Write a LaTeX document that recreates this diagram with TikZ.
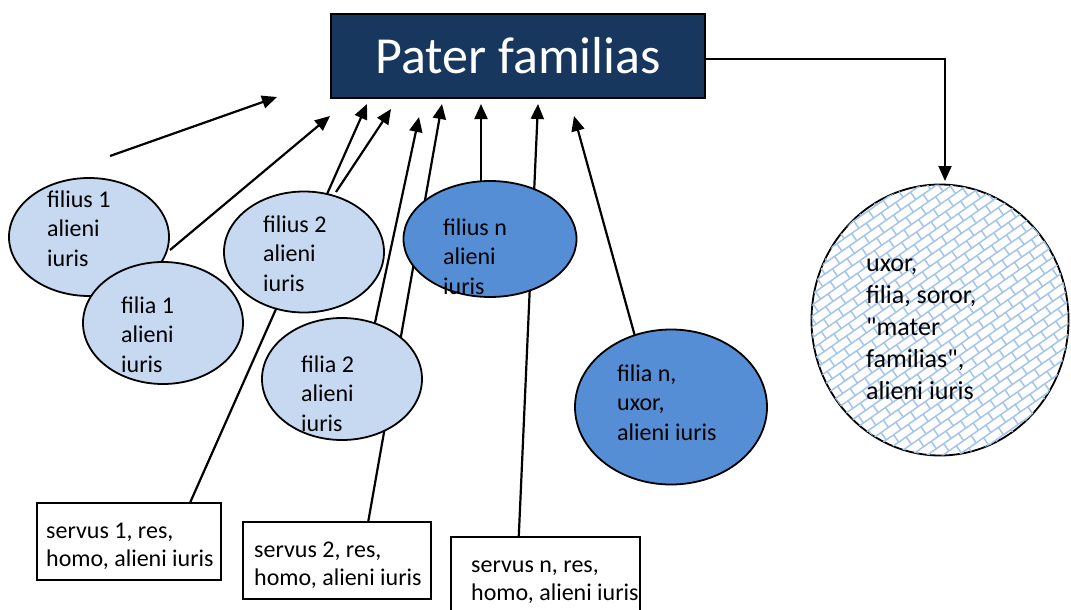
\documentclass[tikz,border=0pt]{standalone}
\usepackage{fontspec}
\setmainfont{Carlito}
\newfontfamily\qfont{Carlito}
\usetikzlibrary{arrows.meta,backgrounds,patterns.meta,shapes.geometric,calc}
\definecolor{navy}{HTML}{17375E}
\definecolor{lightb}{HTML}{C6D9F1}
\definecolor{midb}{HTML}{558ED5}
\definecolor{patb}{HTML}{A4C4EC}
\pgfdeclarepattern{
  name=bricksdiag,
  bottom left={\pgfpoint{-1pt}{-1pt}},
  top right={\pgfpoint{19pt}{19pt}},
  tile size={\pgfpoint{18pt}{18pt}},
  tile transformation={\pgftransformrotate{35}},
  code={
    \pgfsetlinewidth{1.5pt}
    \pgfpathmoveto{\pgfpoint{0pt}{0pt}}\pgfpathlineto{\pgfpoint{18pt}{0pt}}
    \pgfpathmoveto{\pgfpoint{0pt}{9pt}}\pgfpathlineto{\pgfpoint{18pt}{9pt}}
    \pgfpathmoveto{\pgfpoint{4.5pt}{0pt}}\pgfpathlineto{\pgfpoint{4.5pt}{9pt}}
    \pgfpathmoveto{\pgfpoint{13.5pt}{9pt}}\pgfpathlineto{\pgfpoint{13.5pt}{18pt}}
    \pgfusepath{stroke}
  }
}
\begin{document}
\begin{tikzpicture}[x=1pt,y=-1pt,
  ell/.style={ellipse, draw=black, line width=1.8pt, inner sep=0pt},
  lbl/.style={anchor=north west, inner sep=0pt, align=left, font=\fontsize{24}{29.5}\selectfont},
  box/.style={rectangle, draw=black, line width=1.8pt, fill=white, inner sep=0pt},
  conn/.style={line width=2.2pt, -{Triangle[length=15pt,width=13pt]}}
]
\useasboundingbox (0,0) rectangle (1071,610);

% head
\node[rectangle, draw=black, line width=1.8pt, fill=navy, text=white,
      minimum width=374pt, minimum height=84pt, inner sep=0pt,
      font=\fontsize{52}{60}\selectfont] (pf) at (518,56) {Pater familias};

% ellipses
\node[ell, fill=lightb, minimum width=160pt, minimum height=118pt] (f1) at (89,237) {};
\node[ell, fill=lightb, minimum width=160pt, minimum height=122pt] (fa1) at (163,323) {};
\node[ell, fill=lightb, minimum width=160pt, minimum height=121pt] (f2) at (304,252) {};
\node[ell, fill=lightb, minimum width=160pt, minimum height=122pt] (fa2) at (342,379) {};
\node[ell, fill=midb, minimum width=173pt, minimum height=116pt] (fn) at (490,239) {};
\node[ell, fill=midb, minimum width=192pt, minimum height=155pt] (fan) at (671,407) {};
\node[ell, fill=white, postaction={pattern=bricksdiag, pattern color=patb},
      minimum width=257pt, minimum height=271pt] (mf) at (940,320) {};

% texts in ellipses
\node[lbl] (f1t) at (47,188) {\rule{0pt}{19pt}filius 1\\alieni\\iuris};
\node[lbl] (fa1t) at (121,294) {\rule{0pt}{19pt}filia 1\\alieni\\iuris};
\node[lbl] (f2t) at (263,213) {\rule{0pt}{19pt}filius 2\\alieni\\iuris};
\node[lbl] (fa2t) at (301,353) {\rule{0pt}{19pt}filia 2\\alieni\\iuris};
\node[lbl] (fnt) at (443,216) {\rule{0pt}{19pt}filius n\\alieni\\iuris};
\node[lbl] (fant) at (617,362) {\rule{0pt}{19pt}filia n,\\uxor,\\alieni iuris};
\node[lbl, font=\fontsize{26}{32}\selectfont] (mft) at (866,251) {\rule{0pt}{20pt}uxor,\\filia, soror,\\{\qfont"}mater\\familias{\qfont"},\\alieni iuris};

% boxes
\node[box, minimum width=184pt, minimum height=77pt] (s1) at (129,541.5) {};
\node[box, minimum width=188pt, minimum height=77pt] (s2) at (337,560.5) {};
\node[box, minimum width=189pt, minimum height=85pt] (sn) at (545.5,579.5) {};
\node[lbl, font=\fontsize{24}{28.5}\selectfont] (s1t) at (46,519) {\rule{0pt}{19pt}servus 1, res,\\homo, alieni iuris};
\node[lbl, font=\fontsize{24}{28.5}\selectfont] (s2t) at (254,538) {\rule{0pt}{19pt}servus 2, res,\\homo, alieni iuris};
\node[lbl, font=\fontsize{24}{28.5}\selectfont] (snt) at (471,553) {\rule{0pt}{19pt}servus n, res,\\homo, alieni iuris};

% connector end points
\coordinate (t1) at (277,97);
\coordinate (t2) at (330,116);
\coordinate (t3) at (367,104);
\coordinate (t4) at (391,109);
\coordinate (t5) at (419,117);
\coordinate (t6) at (442,104);
\coordinate (t7) at (481,104);
\coordinate (t8) at (538,104);
\coordinate (t9) at (574,116);
\coordinate (tm) at (945,181);
\coordinate (a1) at (110,156);
\coordinate (a2) at (170,250);
\coordinate (a4) at (336,192);
\coordinate (a5) at (373,332);
\coordinate (a7) at (481,192);
\coordinate (a9) at (636,340);
\coordinate (s1a) at ($(s1.north west)!0.83!(s1.north east)$);
\coordinate (s2a) at ($(s2.north west)!0.665!(s2.north east)$);
\coordinate (sna) at ($(sn.north west)!0.36!(sn.north east)$);

\begin{pgfonlayer}{background}
\draw[conn] (a1) -- (t1);
\draw[conn] (a2) -- (t2);
\draw[conn] (s1a) -- (t3);
\draw[conn] (a4) -- (t4);
\draw[conn] (a5) -- (t5);
\draw[conn] (s2a) -- (t6);
\draw[conn] (a7) -- (t7);
\draw[conn] (sna) -- (t8);
\draw[conn] (a9) -- (t9);
\end{pgfonlayer}
\draw[line width=2pt, -{Triangle[length=15pt,width=13pt]}] (pf.east |- 0,59) -| (tm);
\end{tikzpicture}
\end{document}
